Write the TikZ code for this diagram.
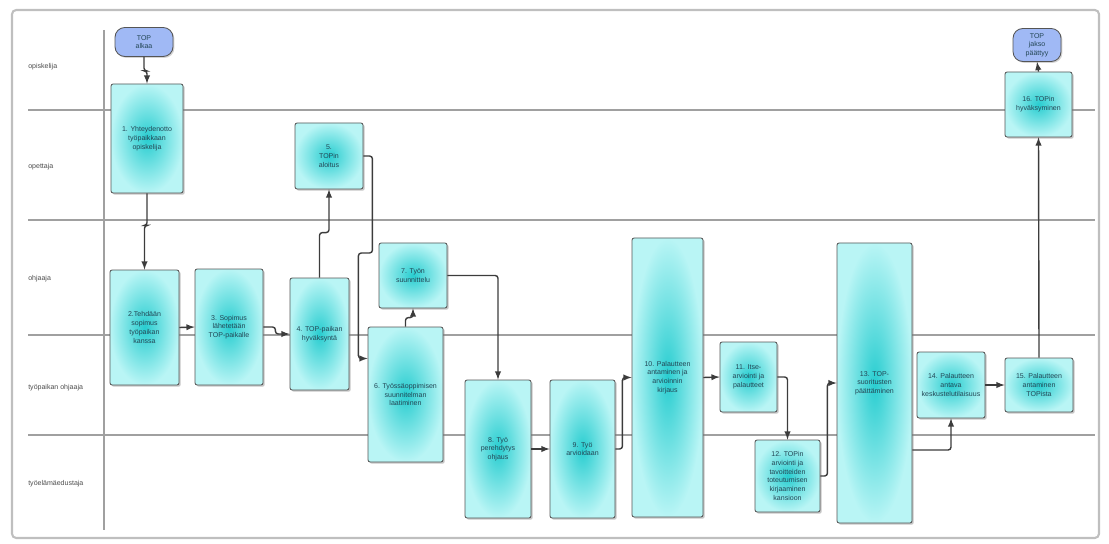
\documentclass[tikz,border=0pt]{standalone}
\usepackage{fontspec}
\setmainfont{Liberation Sans}
\usetikzlibrary{arrows,shadows,calc}

\definecolor{laneline}{RGB}{160,160,160}
\definecolor{boxedge}{RGB}{85,85,85}
\definecolor{boxtext}{RGB}{35,70,85}
\definecolor{tealmid}{RGB}{40,205,208}
\definecolor{tealedge}{RGB}{185,245,245}
\definecolor{termfill}{RGB}{160,185,245}
\definecolor{flowline}{RGB}{60,60,60}

\begin{document}
\begin{tikzpicture}[x=0.025cm,y=-0.025cm,
    lane/.style={laneline, line width=1pt},
    lanelabel/.style={anchor=west, text=black!70, inner sep=0pt, font=\fontsize{5}{6}\selectfont},
    sz/.style 2 args={minimum width=#1*0.025cm, minimum height=#2*0.025cm},
    task/.style={draw=boxedge, line width=0.6pt, rounded corners=1.5pt,
        inner color=tealmid, outer color=tealedge,
        drop shadow={shadow xshift=1.2pt, shadow yshift=-1.2pt, opacity=0.45},
        align=center, text=boxtext, inner sep=1pt, font=\fontsize{5}{6.2}\selectfont},
    term/.style={draw=boxedge, line width=0.6pt, fill=termfill, rounded corners=7pt,
        drop shadow={shadow xshift=1pt, shadow yshift=-1pt, opacity=0.35},
        align=center, text=boxtext, inner sep=1pt, font=\fontsize{5}{6.2}\selectfont},
    flow/.style={->, >=latex, flowline, line width=1pt, rounded corners=2pt}]
    \useasboundingbox (0,0) rectangle (1109,544);

    % frame and swimlanes
    \draw[black!25, line width=1.5pt, rounded corners=3pt] (12,10) rectangle (1099,538);
    \foreach \y in {110,220,335,435}
        \draw[lane] (28,\y) -- (1095,\y);
    \draw[lane] (104,30) -- (104,530);

    \node[lanelabel] (l1) at (28,67) {opiskelija};
    \node[lanelabel] (l2) at (28,167) {opettaja};
    \node[lanelabel] (l3) at (28,279) {ohjaaja};
    \node[lanelabel] (l4) at (28,388) {työpaikan ohjaaja};
    \node[lanelabel] (l5) at (28,484) {työelämäedustaja};

    % start and end
    \node[term, sz={58}{29}] (st) at (144,42) {TOP\\alkaa};
    \node[term, sz={48}{33}] (en) at (1037,45) {TOP\\jakso\\päättyy};

    % tasks
    \node[task, sz={72}{109}] (b1) at (147,138.5) {1. Yhteydenotto\\työpaikkaan\\opiskelija};
    \node[task, sz={69}{115}] (b2) at (144.5,327.5) {2.Tehdään\\sopimus\\työpaikan\\kanssa};
    \node[task, sz={68}{116}] (b3) at (229,327) {3. Sopimus\\lähetetään\\TOP-paikalle};
    \node[task, sz={59}{112}] (b4) at (319.5,334) {4. TOP-paikan\\hyväksyntä};
    \node[task, sz={68}{66}] (b5) at (329,156) {5.\\TOPin\\aloitus};
    \node[task, sz={75}{135}] (b6) at (405.5,394.5) {6. Työssäoppimisen\\suunnitelman\\laatiminen};
    \node[task, sz={68}{65}] (b7) at (413,275.5) {7. Työn\\suunnittelu};
    \node[task, sz={66}{138}] (b8) at (498,449) {8. Työ\\perehdytys\\ohjaus};
    \node[task, sz={65}{138}] (b9) at (582.5,449) {9. Työ\\arvioidaan};
    \node[task, sz={71}{279}] (b10) at (667.5,377.5) {10. Palautteen\\antaminen ja\\arvioinnin\\kirjaus};
    \node[task, sz={57}{70}] (b11) at (748.5,377) {11. Itse-\\arviointi ja\\palautteet};
    \node[task, sz={65}{72}] (b12) at (787.5,476) {12. TOPin\\arviointi ja\\tavoitteiden\\toteutumisen\\kirjaaminen\\kansioon};
    \node[task, sz={75}{280}] (b13) at (874.5,383) {13. TOP-\\suoritusten\\päättäminen};
    \node[task, sz={68}{66}] (b14) at (951,385) {14. Palautteen\\antava\\keskustelutilaisuus};
    \node[task, sz={68}{54}] (b15) at (1039,385) {15. Palautteen\\antaminen\\TOPista};
    \node[task, sz={67}{65}] (b16) at (1038.5,104.5) {16. TOPin\\hyväksyminen};

    % flow
    \draw[flow] (st.south) -- ++(0,14) -| (b1.north);
    \draw[flow] (b1.south) -- ++(0,32) -| (b2.north);
    \draw[flow] (b2.east) -- (b3.west);
    \draw[flow] (b3.east) -- ++(12,0) |- (b4.west);
    \draw[flow] (b4.north) -- ++(0,-45) -| (b5.south);
    \draw[flow] (b5.east) -- ++(9,0) -- ++(0,97) -- ++(-14,0) |- ([yshift=0.9cm]b6.west);
    \draw[flow] (b6.north) -- ++(0,-9) -| (b7.south);
    \draw[flow] (b7.east) -| (b8.north);
    \draw[flow] (b8.east) -- (b9.west);
    \draw[flow] (b9.east) -- ++(7,0) |- (b10.west);
    \draw[flow] (b10.east) -- (b11.west);
    \draw[flow] (b11.east) -| (b12.north);
    \draw[flow] (b12.east) -- ++(7,0) |- (b13.west);
    \draw[flow] ([yshift=-1.675cm]b13.east) -| (b14.south);
    \draw[flow] (b14.east) -- (b15.west);
    \draw[flow] (b15.north) -- (b16.south);
    \draw[flow] (b16.north) -- (en.south);
\end{tikzpicture}
\end{document}
